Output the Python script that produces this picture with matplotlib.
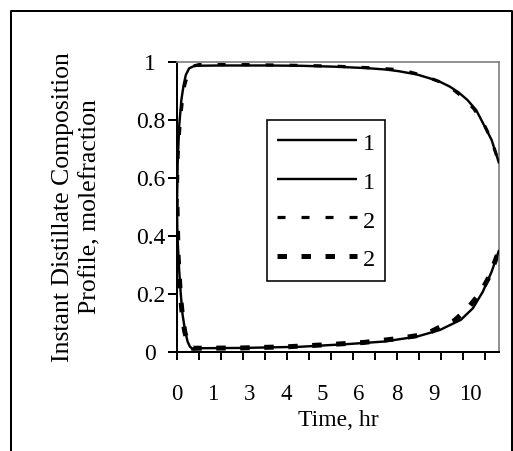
import matplotlib
matplotlib.use("Agg")
import matplotlib.pyplot as plt
import matplotlib.transforms as mtransforms
from matplotlib.lines import Line2D

plt.rcParams['font.family'] = ['Liberation Serif', 'DejaVu Serif']
plt.rcParams['lines.scale_dashes'] = False

# ---- data (x in category-axis positions) ----
x_upper1 = [0, 0.03, 0.1, 0.2, 0.3, 0.4, 0.55, 0.8, 2, 4, 5.6, 7.1, 8.6, 9.5, 10.1, 10.9,
            11.6, 12.0, 12.4, 12.8, 13.2, 13.6, 13.9, 14.3, 14.64]
y_upper1 = [0.5, 0.65, 0.78, 0.87, 0.92, 0.955, 0.978, 0.987, 0.988, 0.988, 0.987, 0.984,
            0.979, 0.974, 0.968, 0.957, 0.941, 0.93, 0.915, 0.895, 0.869, 0.834, 0.79, 0.731, 0.65]

x_lower1 = [0, 0.02, 0.1, 0.17, 0.25, 0.36, 0.48, 0.59, 0.74, 1.05, 3, 5.6, 7.9, 9.4,
            10.9, 11.95, 12.9, 13.45, 13.9, 14.3, 14.64]
y_lower1 = [0.5, 0.4, 0.28, 0.2, 0.13, 0.075, 0.035, 0.017, 0.008, 0.012, 0.013, 0.017,
            0.027, 0.035, 0.052, 0.075, 0.11, 0.15, 0.207, 0.276, 0.351]

x_upper2 = [0, 0.05, 0.15, 0.25, 0.35, 0.5, 0.7, 1.0, 3.0, 5.0, 7.0, 8.0, 9.0, 9.8, 10.5,
            11.2, 11.9, 12.5, 13.0, 13.5, 14.0, 14.3, 14.64]
y_upper2 = [0.5, 0.68, 0.8, 0.87, 0.92, 0.96, 0.985, 0.991, 0.991, 0.989, 0.986, 0.983, 0.979,
            0.975, 0.967, 0.953, 0.933, 0.908, 0.878, 0.838, 0.778, 0.73, 0.65]

x_lower2 = [0, 0.05, 0.15, 0.25, 0.35, 0.5, 0.7, 1.0, 3.0, 5.0, 7.0, 8.5, 10.0, 11.3, 11.9,
            12.6, 13.2, 13.8, 14.2, 14.64]
y_lower2 = [0.5, 0.33, 0.2, 0.12, 0.07, 0.025, 0.012, 0.012, 0.013, 0.017, 0.025, 0.032,
            0.045, 0.06, 0.083, 0.107, 0.148, 0.205, 0.26, 0.35]

legend_labels = ['1', '1', '2', '2']
xtick_positions = [0, 1.61, 3.32, 4.95, 6.59, 8.25, 10.0, 11.66, 13.32]
xtick_labels = ['0', '1', '3', '4', '5', '6', '8', '9', '10']
ytick_values = [0, 0.2, 0.4, 0.6, 0.8, 1.0]
ytick_labels = ['0', '0.2', '0.4', '0.6', '0.8', '1']

W, H = 513, 451
fig = plt.figure(figsize=(W / 100, H / 100), dpi=100)
ax = fig.add_axes([177 / W, 1 - 351.7 / H, (499 - 177) / W, (351.7 - 62) / H])

px = 72 / 100  # points per pixel

l3, = ax.plot(x_upper2, y_upper2, color='black', lw=3.2 * px,
              linestyle=(0, (8 * px, 16 * px)), dash_capstyle='butt', zorder=2)
l4, = ax.plot(x_lower2, y_lower2, color='black', lw=5 * px,
              linestyle=(0, (9.5 * px, 14.5 * px)), dash_capstyle='butt', zorder=2)
l1, = ax.plot(x_upper1, y_upper1, color='black', lw=2.4 * px, solid_capstyle='butt', zorder=3)
l2, = ax.plot(x_lower1, y_lower1, color='black', lw=2.4 * px, solid_capstyle='butt', zorder=3)

ax.set_xlim(0, 14.636)
ax.set_ylim(0, 1)

# tick marks on every category step, labels on a secondary axis
ax.set_xticks(range(0, 15))
ax.set_xticklabels([])
ax.tick_params(axis='x', which='major', direction='out', length=8 * px, width=2 * px, color='black')
sec = ax.secondary_xaxis('bottom')
sec.set_xticks(xtick_positions)
sec.set_xticklabels(xtick_labels)
sec.tick_params(axis='x', length=0, pad=23, labelsize=16.5)
sec.spines['bottom'].set_visible(False)

ax.set_yticks(ytick_values)
ax.set_yticklabels(ytick_labels)
ax.tick_params(axis='y', direction='out', length=9 * px, width=2 * px, pad=2, labelsize=17)
shift = mtransforms.ScaledTranslation(-9 / 100, 0, fig.dpi_scale_trans)
for lab in ax.get_yticklabels():
    if lab.get_text() in ('0', '1'):
        lab.set_transform(lab.get_transform() + shift)

for s in ['left', 'bottom']:
    ax.spines[s].set_color('black')
    ax.spines[s].set_linewidth(2 * px)
for s in ['top', 'right']:
    ax.spines[s].set_color('#808080')
    ax.spines[s].set_linewidth(1.7 * px)

leg = ax.legend([l1, l2, l3, l4], legend_labels, loc='upper left',
                bbox_to_anchor=(266.7 / W, 1 - 120 / H), bbox_transform=fig.transFigure,
                borderaxespad=0, borderpad=0.41, handlelength=3.29, handletextpad=0.27,
                handleheight=1.15, labelspacing=0.55, fontsize=17.5, fancybox=False,
                framealpha=1, edgecolor='black')
leg.get_frame().set_linewidth(1.6 * px)

fig.text(77 / W, 1 - 207 / H, 'Instant Distillate Composition\nProfile, molefraction',
         rotation=90, ha='center', va='center', multialignment='center', fontsize=18.5,
         linespacing=1.3)
fig.text(338 / W, 1 - 421 / H, 'Time, hr', ha='center', va='center', fontsize=17)

# outer border (open at the bottom)
fig.add_artist(Line2D([11 / W, 11 / W, 512 / W, 512 / W],
                      [0, 1 - 10.5 / H, 1 - 10.5 / H, 0],
                      transform=fig.transFigure, color='black', lw=2 * px))

fig.savefig('out.png', dpi=100)
